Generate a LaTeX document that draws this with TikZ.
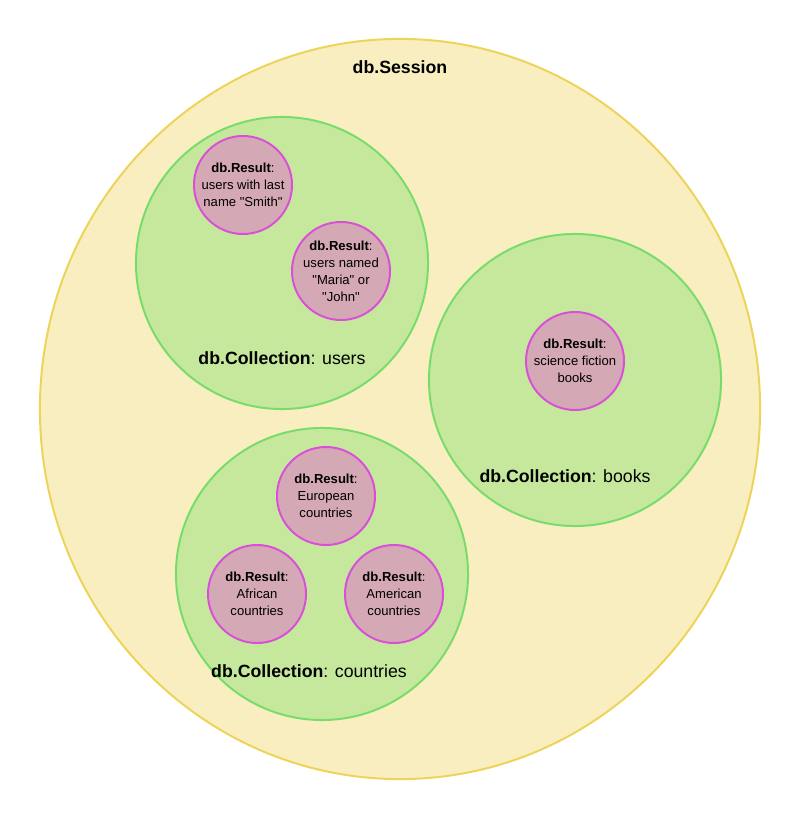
\documentclass[tikz,border=0pt]{standalone}
\usepackage{fontspec}
\setmainfont{Liberation Sans}
\usetikzlibrary{positioning,shapes.geometric}
\definecolor{sessionfill}{HTML}{F8EEC0}
\definecolor{sessionline}{HTML}{EDD458}
\definecolor{collfill}{HTML}{C5E89D}
\definecolor{collline}{HTML}{78DC6B}
\definecolor{resfill}{HTML}{D4A8B4}
\definecolor{resline}{HTML}{D94FD8}

\tikzset{
  session/.style={ellipse, draw=sessionline, fill=sessionfill, line width=1.4pt,
    minimum width=18cm, minimum height=18.5cm, inner sep=0pt},
  collection/.style={circle, draw=collline, fill=collfill, line width=1.4pt,
    minimum size=7.3cm, inner sep=0pt},
  result/.style={circle, draw=resline, fill=resfill, line width=1.4pt,
    minimum size=2.45cm, inner sep=0pt, align=center,
    font=\fontsize{9.3}{12.1}\selectfont},
  biglabel/.style={font=\fontsize{12.6}{15}\selectfont}
}
\newcommand{\qt}{\textquotedbl}

\begin{document}
\begin{tikzpicture}[x=0.025cm, y=-0.025cm]
  % Marco (800 x 819 px)
  \useasboundingbox (0,0) rectangle (800,819);

  % Sesion
  \node[session] (session) at (400,409) {};
  \node[biglabel] (sessionlbl) at (400,67) {\textbf{db.Session}};

  % Colecciones
  \node[collection] (users) at (282,263) {};
  \node[collection] (books) at (575,380) {};
  \node[collection] (countries) at (322,574) {};

  \node[biglabel] (userslbl) at (282,358) {\textbf{db.Collection}: users};
  \node[biglabel] (bookslbl) at (565,476) {\textbf{db.Collection}: books};
  \node[biglabel] (countrieslbl) at (309,671) {\textbf{db.Collection}: countries};

  % Resultados
  \node[result] (smith) at (243,185)
    {\textbf{db.Result}:\\users with last\\name \qt Smith\qt};
  \node[result] (mariajohn) at (341,271)
    {\textbf{db.Result}:\\users named\\\qt Maria\qt{} or\\\qt John\qt};
  \node[result] (scifi) at (575,361)
    {\textbf{db.Result}:\\science fiction\\books};
  \node[result] (europe) at (326,496)
    {\textbf{db.Result}:\\European\\countries};
  \node[result] (africa) at (257,594)
    {\textbf{db.Result}:\\African\\countries};
  \node[result] (america) at (394,594)
    {\textbf{db.Result}:\\American\\countries};
\end{tikzpicture}
\end{document}
